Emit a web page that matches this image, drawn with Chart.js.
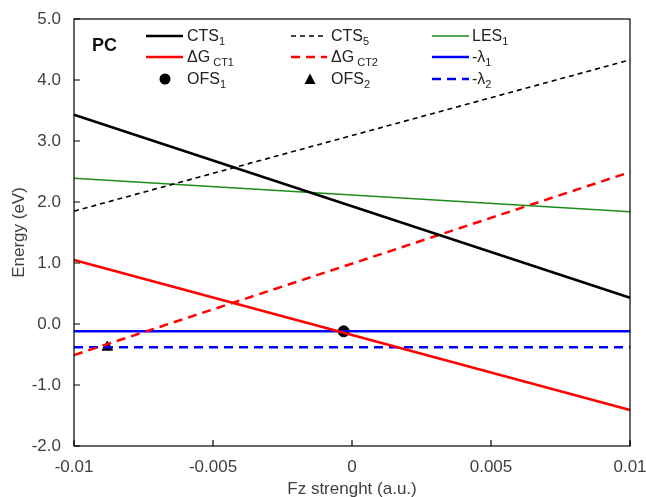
<!DOCTYPE html>
<html>
<head>
<meta charset="utf-8">
<script src="https://cdn.jsdelivr.net/npm/chart.js@4"></script>
<style>
  html,body{margin:0;padding:0;background:#fff;}
  #wrap{position:relative;width:646px;height:497px;}
  canvas{position:absolute;left:0;top:0;}
  .lg{position:absolute;font-family:"Liberation Sans",Arial,sans-serif;font-size:16px;color:#222;line-height:18px;white-space:nowrap;}
  .lg sub{font-size:11px;vertical-align:-4px;line-height:0;}
  .pc{position:absolute;font-family:"Liberation Sans",Arial,sans-serif;font-size:18px;font-weight:bold;color:#111;line-height:20px;}
  svg.sw{position:absolute;overflow:visible;}
</style>
</head>
<body>
<div id="wrap">
<canvas id="c" width="646" height="497"></canvas>
<div class="pc" style="left:92px;top:35px;">PC</div>

<svg class="sw" style="left:146px;top:35px" width="37" height="2"><line x1="0" y1="1" x2="37" y2="1" stroke="#000" stroke-width="2.5"/></svg>
<div class="lg" style="left:187px;top:27px;">CTS<sub>1</sub></div>
<svg class="sw" style="left:291px;top:35px" width="36" height="2"><line x1="0" y1="1" x2="36" y2="1" stroke="#000" stroke-width="1.6" stroke-dasharray="5,4"/></svg>
<div class="lg" style="left:331px;top:27px;">CTS<sub>5</sub></div>
<svg class="sw" style="left:432px;top:35px" width="37" height="2"><line x1="0" y1="1" x2="37" y2="1" stroke="#1b8c1b" stroke-width="1.6"/></svg>
<div class="lg" style="left:472px;top:27px;">LES<sub>1</sub></div>

<svg class="sw" style="left:146px;top:56px" width="37" height="2"><line x1="0" y1="1" x2="37" y2="1" stroke="#ff0000" stroke-width="2.5"/></svg>
<div class="lg" style="left:187px;top:48px;">ΔG<sub>&nbsp;CT1</sub></div>
<svg class="sw" style="left:291px;top:56px" width="36" height="2"><line x1="0" y1="1" x2="36" y2="1" stroke="#ff0000" stroke-width="2.5" stroke-dasharray="9,6"/></svg>
<div class="lg" style="left:331px;top:48px;">ΔG<sub>&nbsp;CT2</sub></div>
<svg class="sw" style="left:432px;top:56px" width="37" height="2"><line x1="0" y1="1" x2="37" y2="1" stroke="#0000ff" stroke-width="2.5"/></svg>
<div class="lg" style="left:472px;top:48px;">-λ<sub>1</sub></div>

<svg class="sw" style="left:158px;top:72px" width="14" height="14"><circle cx="7" cy="7" r="5.5" fill="#000"/></svg>
<div class="lg" style="left:187px;top:70px;">OFS<sub>1</sub></div>
<svg class="sw" style="left:303px;top:72px" width="14" height="14"><polygon points="7,1.5 12.5,12 1.5,12" fill="#000"/></svg>
<div class="lg" style="left:331px;top:70px;">OFS<sub>2</sub></div>
<svg class="sw" style="left:432px;top:78px" width="37" height="2"><line x1="0" y1="1" x2="37" y2="1" stroke="#0000ff" stroke-width="2.5" stroke-dasharray="9,6"/></svg>
<div class="lg" style="left:472px;top:70px;">-λ<sub>2</sub></div>
</div>
<script>
// ---- data ----
const fzRange = [-0.01, 0.01];
const xTicks = [-0.01, -0.005, 0, 0.005, 0.01];
const yTicks = [-2, -1, 0, 1, 2, 3, 4, 5];
const cts1 = [3.43, 0.43];
const cts5 = [1.85, 4.33];
const les1 = [2.39, 1.84];
const dgct1 = [1.05, -1.41];
const dgct2 = [-0.51, 2.49];
const lambda1 = [-0.12, -0.12];
const lambda2 = [-0.38, -0.38];
const ofs1 = [[-0.0003, -0.12]];
const ofs2 = [[-0.0088, -0.38]];

const toPts = arr => arr.map((v, i) => ({x: fzRange[i], y: v}));
const toXY = arr => arr.map(p => ({x: p[0], y: p[1]}));

const frame = {
  id: 'frame',
  afterDraw(chart) {
    const {ctx, chartArea: a, scales} = chart;
    ctx.save();
    ctx.strokeStyle = '#000';
    ctx.lineWidth = 1.2;
    ctx.strokeRect(a.left, a.top, a.right - a.left, a.bottom - a.top);
    ctx.beginPath();
    scales.x.ticks.forEach(t => {
      const px = scales.x.getPixelForValue(t.value);
      ctx.moveTo(px, a.bottom); ctx.lineTo(px, a.bottom - 6);
    });
    scales.y.ticks.forEach(t => {
      const py = scales.y.getPixelForValue(t.value);
      ctx.moveTo(a.left, py); ctx.lineTo(a.left + 6, py);
    });
    ctx.stroke();
    ctx.restore();
  }
};

const tickFont = {family: '"Liberation Sans", Arial, sans-serif', size: 17};

new Chart(document.getElementById('c'), {
  type: 'line',
  data: {
    datasets: [
      {data: toPts(cts1), borderColor: '#000', borderWidth: 2.5},
      {data: toPts(cts5), borderColor: '#000', borderWidth: 1.6, borderDash: [5, 4]},
      {data: toPts(les1), borderColor: '#1b8c1b', borderWidth: 1.6},
      {data: toPts(dgct1), borderColor: '#ff0000', borderWidth: 2.5},
      {data: toPts(dgct2), borderColor: '#ff0000', borderWidth: 2.5, borderDash: [9, 6]},
      {data: toPts(lambda1), borderColor: '#0000ff', borderWidth: 2.5},
      {data: toPts(lambda2), borderColor: '#0000ff', borderWidth: 2.5, borderDash: [9, 6]},
      {type: 'scatter', data: toXY(ofs1), pointStyle: 'circle', pointRadius: 5.5, backgroundColor: '#000', borderColor: '#000', showLine: false},
      {type: 'scatter', data: toXY(ofs2), pointStyle: 'triangle', pointRadius: 6, backgroundColor: '#000', borderColor: '#000', showLine: false}
    ]
  },
  options: {
    responsive: false,
    animation: false,
    clip: false,
    elements: {point: {radius: 0}, line: {tension: 0}},
    layout: {padding: {left: 0, right: 16, top: 19, bottom: 0}},
    plugins: {legend: {display: false}, tooltip: {enabled: false}},
    scales: {
      x: {
        type: 'linear', min: -0.01, max: 0.01,
        afterBuildTicks: s => { s.ticks = xTicks.map(v => ({value: v})); },
        afterFit: s => { s.height = 51; s.paddingLeft = 0; s.paddingRight = 0; },
        grid: {display: false},
        border: {display: false},
        ticks: {font: tickFont, color: '#404040', padding: 3.5, maxRotation: 0, callback: v => String(v)},
        title: {display: true, text: 'Fz strenght (a.u.)', font: tickFont, color: '#404040', padding: {top: 0, bottom: -3}}
      },
      y: {
        type: 'linear', min: -2, max: 5,
        afterBuildTicks: s => { s.ticks = yTicks.map(v => ({value: v})); },
        afterFit: s => { s.width = 74; s.paddingTop = 0; s.paddingBottom = 0; },
        grid: {display: false},
        border: {display: false},
        ticks: {font: tickFont, color: '#404040', padding: 5, callback: v => Number(v).toFixed(1)},
        title: {display: true, text: 'Energy (eV)', font: tickFont, color: '#404040', padding: {top: 9, bottom: 0}}
      }
    }
  },
  plugins: [frame]
});
</script>
</body>
</html>
